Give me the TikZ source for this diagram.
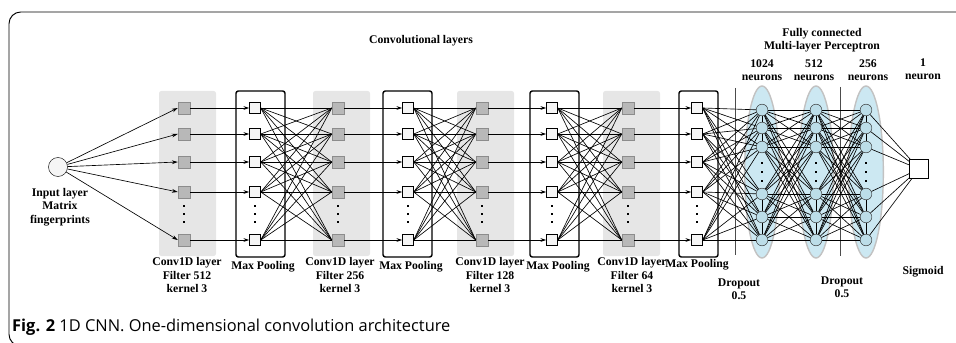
\documentclass[tikz,border=0pt]{standalone}
\usepackage{fontspec}
\setmainfont{Liberation Serif}
\newfontfamily\capfont{Open Sans}
\usetikzlibrary{arrows.meta,positioning}

\definecolor{bandgray}{HTML}{E6E6E6}
\definecolor{ellblue}{HTML}{CCE8F2}
\definecolor{ellrim}{HTML}{C2C2C2}
\definecolor{neuronblue}{HTML}{BCDDE8}

\begin{document}
\begin{tikzpicture}[x=0.03cm, y=-0.03cm,
        lbl/.style={font=\bfseries\fontsize{10}{11.5}\selectfont, align=center, inner sep=0pt},
        convbox/.style={draw=black!45, fill=black!28, minimum size=0.36cm, inner sep=0pt},
        poolbox/.style={draw, fill=black!4, minimum size=0.33cm, inner sep=0pt},
        neuron/.style={circle, draw=black!80, fill=neuronblue, minimum size=0.35cm, inner sep=0pt},
        link/.style={line width=0.55pt},
        arr/.style={line width=0.55pt, -{Stealth[length=5pt,width=3.2pt]}}]

    \useasboundingbox (0,0) rectangle (956,343);

    % Frame and caption
    \draw[line width=0.8pt, rounded corners=10pt] (990,12) -- (9,12) -- (9,346) -- (990,346);
    \node[anchor=base west, inner sep=0pt, font=\capfont\fontsize{14}{16}\selectfont] (caption) at (12,331)
        {\textbf{Fig. 2} 1D CNN. One-dimensional convolution architecture};

    % Grey bands behind the Conv1D layers
    \foreach \x in {184,338,482,628}
        \fill[bandgray, rounded corners=2pt] (\x-25,91) rectangle (\x+32,256);

    % Max pooling frames
    \foreach \xa/\xb in {236/285, 383/432, 530/579, 679/718}
        \draw[line width=1.2pt, rounded corners=2pt] (\xa,91) rectangle (\xb,257);

    % Ellipses of the perceptron
    \foreach \x in {762,816,866}
        \draw[ellrim, fill=ellblue, line width=1.2pt] (\x,172) ellipse [x radius=0.52cm, y radius=2.58cm];

    % Dropout lines
    \draw[black!70, line width=0.7pt] (735,88) -- (735,255);
    \draw[black!70, line width=0.7pt] (840,87) -- (840,256);

    % Input
    \node[circle, draw, fill=black!4, minimum size=0.57cm, inner sep=0pt] (in) at (58,167) {};
    \node[lbl] (inlbl) at (60,207) {Input layer\\Matrix\\fingerprints};

    % Conv1D and pooling nodes
    \foreach \k/\xc/\xp in {1/184/255, 2/338/408, 3/482/552, 4/628/697} {
        \foreach \r/\y in {1/108, 2/134, 3/162, 4/192, 5/240} {
            \node[convbox] (c\k-\r) at (\xc,\y) {};
            \node[poolbox] (p\k-\r) at (\xp,\y) {};
        }
        \foreach \y in {206,214,222} {
            \fill (\xc-1.4,\y-1.4) rectangle ++(2.8,2.8);
            \fill (\xp-1.4,\y-1.4) rectangle ++(2.8,2.8);
        }
    }

    % Perceptron neurons
    \foreach \k/\x in {1/762, 2/816, 3/866} {
        \foreach \r/\y in {1/110, 2/128, 3/147, 4/194, 5/217, 6/240}
            \node[neuron] (m\k-\r) at (\x,\y) {};
        \foreach \y in {163,172,181}
            \fill (\x-1.4,\y-1.4) rectangle ++(2.8,2.8);
        \draw[link] (m\k-1) -- (m\k-2) -- (m\k-3);
        \draw[link] (m\k-4) -- (m\k-5) -- (m\k-6);
    }
    \node[draw, fill=white, minimum size=0.56cm, inner sep=0pt] (sig) at (919,169) {};

    % Input to first conv layer
    \foreach \r in {1,...,5}
        \draw[arr] (in) -- (c1-\r.west);

    % Conv to pooling
    \foreach \k in {1,...,4}
        \foreach \r in {1,...,5}
            \draw[arr] (c\k-\r.east) -- (p\k-\r.west);

    % Pooling to next conv, fully connected
    \foreach \k/\kk in {1/2, 2/3, 3/4}
        \foreach \a in {1,...,5}
            \foreach \b in {1,...,5}
                \draw[link] (p\k-\a.east) -- (c\kk-\b.west);

    % Last pooling to first dense layer
    \foreach \a in {1,...,5}
        \foreach \b in {1,...,6}
            \draw[link] (p4-\a.east) -- (m1-\b);

    % Dense layers
    \foreach \k/\kk in {1/2, 2/3}
        \foreach \a in {1,...,6}
            \foreach \b in {1,...,6}
                \draw[link] (m\k-\a) -- (m\kk-\b);
    \foreach \a in {1,...,6}
        \draw[link] (m3-\a) -- (sig);

    % Labels
    \node[lbl] (convtitle) at (421,41) {Convolutional layers};
    \node[lbl] (fctitle) at (822,40) {Fully connected\\Multi-layer Perceptron};
    \node[lbl] (n1024) at (762,70) {1024\\neurons};
    \node[lbl] (n512) at (814,70) {512\\neurons};
    \node[lbl] (n256) at (868,70) {256\\neurons};
    \node[lbl] (n1) at (923,69) {1\\neuron};
    \foreach \lx/\f in {187/512, 340/256, 490/128, 632/64}
        \node[lbl] at (\lx,275) {Conv1D layer\\Filter \f\\kernel 3};
    \foreach \lx/\ly in {263/267, 411/267, 558/267, 697/265}
        \node[lbl] at (\lx,\ly) {Max Pooling};
    \node[lbl] (drop1) at (739,289) {Dropout\\0.5};
    \node[lbl] (drop2) at (842,287) {Dropout\\0.5};
    \node[lbl] (siglbl) at (923,272) {Sigmoid};

\end{tikzpicture}
\end{document}
